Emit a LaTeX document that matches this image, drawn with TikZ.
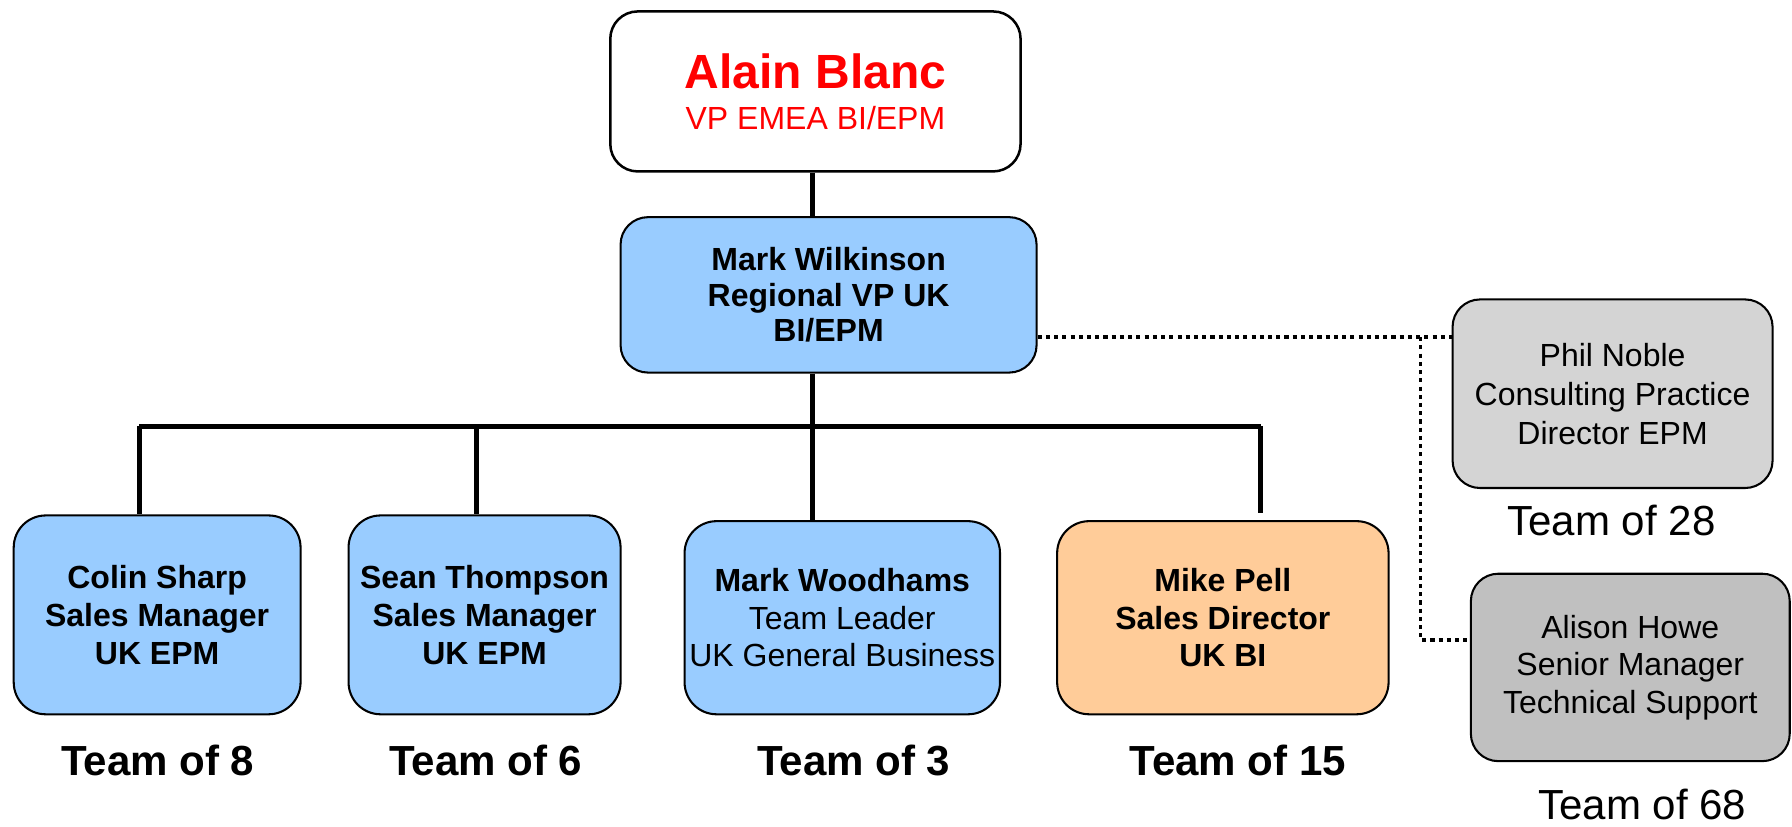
\documentclass[tikz,border=0pt]{standalone}
\usepackage{fontspec}
\setmainfont{Liberation Sans}
\usetikzlibrary{calc}
\definecolor{lblue}{HTML}{99CCFF}
\definecolor{lorange}{HTML}{FFCC99}
\definecolor{lgray}{HTML}{D4D4D4}
\definecolor{mgray}{HTML}{C0C0C0}
\definecolor{vred}{HTML}{FF0000}
\begin{document}
\begin{tikzpicture}[x=0.5pt,y=-0.5pt,
  box/.style={draw=black, line width=0.9pt, rounded corners=12pt, inner sep=0pt,
    align=center, font=\fontsize{14}{16.5}\selectfont},
  conn/.style={line width=2.4pt},
  dotline/.style={line width=1.5pt, dash pattern=on 1.8pt off 1.8pt},
  team/.style={font=\fontsize{18.4}{22}\selectfont\bfseries},
  teamr/.style={font=\fontsize{18.4}{22}\selectfont}]
\useasboundingbox (0,0) rectangle (1568,723.6);

% boxes
\node[box, fill=white, line width=1.1pt, minimum width=179.5pt, minimum height=70pt, text=vred]
  (alain) at (713.5,80)
  {{\fontsize{21}{24}\selectfont\bfseries Alain Blanc}\\[1.5pt]VP EMEA BI/EPM};
\node[box, fill=lblue, minimum width=182pt, minimum height=68pt, font=\fontsize{14}{15.5}\selectfont\bfseries]
  (wilk) at (725,258) {Mark Wilkinson\\Regional VP UK\\BI/EPM};
\node[box, fill=lblue, minimum width=125.5pt, minimum height=87pt, rounded corners=14pt, font=\fontsize{14}{16.5}\selectfont\bfseries]
  (colin) at (137.5,538) {Colin Sharp\\Sales Manager\\UK EPM};
\node[box, fill=lblue, minimum width=119pt, minimum height=87pt, rounded corners=14pt, font=\fontsize{14}{16.5}\selectfont\bfseries]
  (sean) at (424,538) {Sean Thompson\\Sales Manager\\UK EPM};
\node[box, fill=lblue, minimum width=138pt, minimum height=84.5pt, rounded corners=14pt]
  (wood) at (737,540.5) {\textbf{Mark Woodhams}\\Team Leader\\UK General Business};
\node[box, fill=lorange, minimum width=145pt, minimum height=84.5pt, rounded corners=14pt, font=\fontsize{14}{16.5}\selectfont\bfseries]
  (mike) at (1070,540.5) {Mike Pell\\Sales Director\\UK BI};
\node[box, fill=lgray, minimum width=140pt, minimum height=82.5pt, font=\fontsize{14}{17}\selectfont]
  (phil) at (1411,344.5) {Phil Noble\\Consulting Practice\\Director EPM};
\node[box, fill=mgray, minimum width=139.5pt, minimum height=82pt, font=\fontsize{14}{16.5}\selectfont]
  (alison) at (1426.5,584) {Alison Howe\\Senior Manager\\Technical Support};

% team labels
\node[team] (t8) at (138,665) {Team of 8};
\node[team] (t6) at (425,665) {Team of 6};
\node[team] (t3) at (747,665) {Team of 3};
\node[team] (t15) at (1083,665) {Team of 15};
\node[teamr] (t28) at (1410,455) {Team of 28};
\node[teamr] (t68) at (1437,704) {Team of 68};

% connectors
\coordinate (bus) at (711,373);
\coordinate (busL) at (122,373);
\coordinate (busS) at (417,373);
\coordinate (busR) at (1103,373);
\draw[conn] (alain.south -| bus) -- (wilk.north -| bus);
\draw[conn] (wilk.south -| bus) -- (bus);
\draw[conn] (busL) -- (busR);
\draw[conn] (busL) -- (colin.north -| busL);
\draw[conn] (busS) -- (sean.north -| busS);
\draw[conn] (bus) -- (wood.north -| bus);
\draw[conn] (busR) -- ($(mike.north -| busR)+(0,-6)$);

% dotted links
\coordinate (dj) at (1243,295);
\coordinate (dk) at (1243,560);
\draw[dotline] (wilk.east |- dj) -- (phil.west |- dj);
\draw[dotline] (dj) -- (dk) -- (alison.west |- dk);
\end{tikzpicture}
\end{document}
